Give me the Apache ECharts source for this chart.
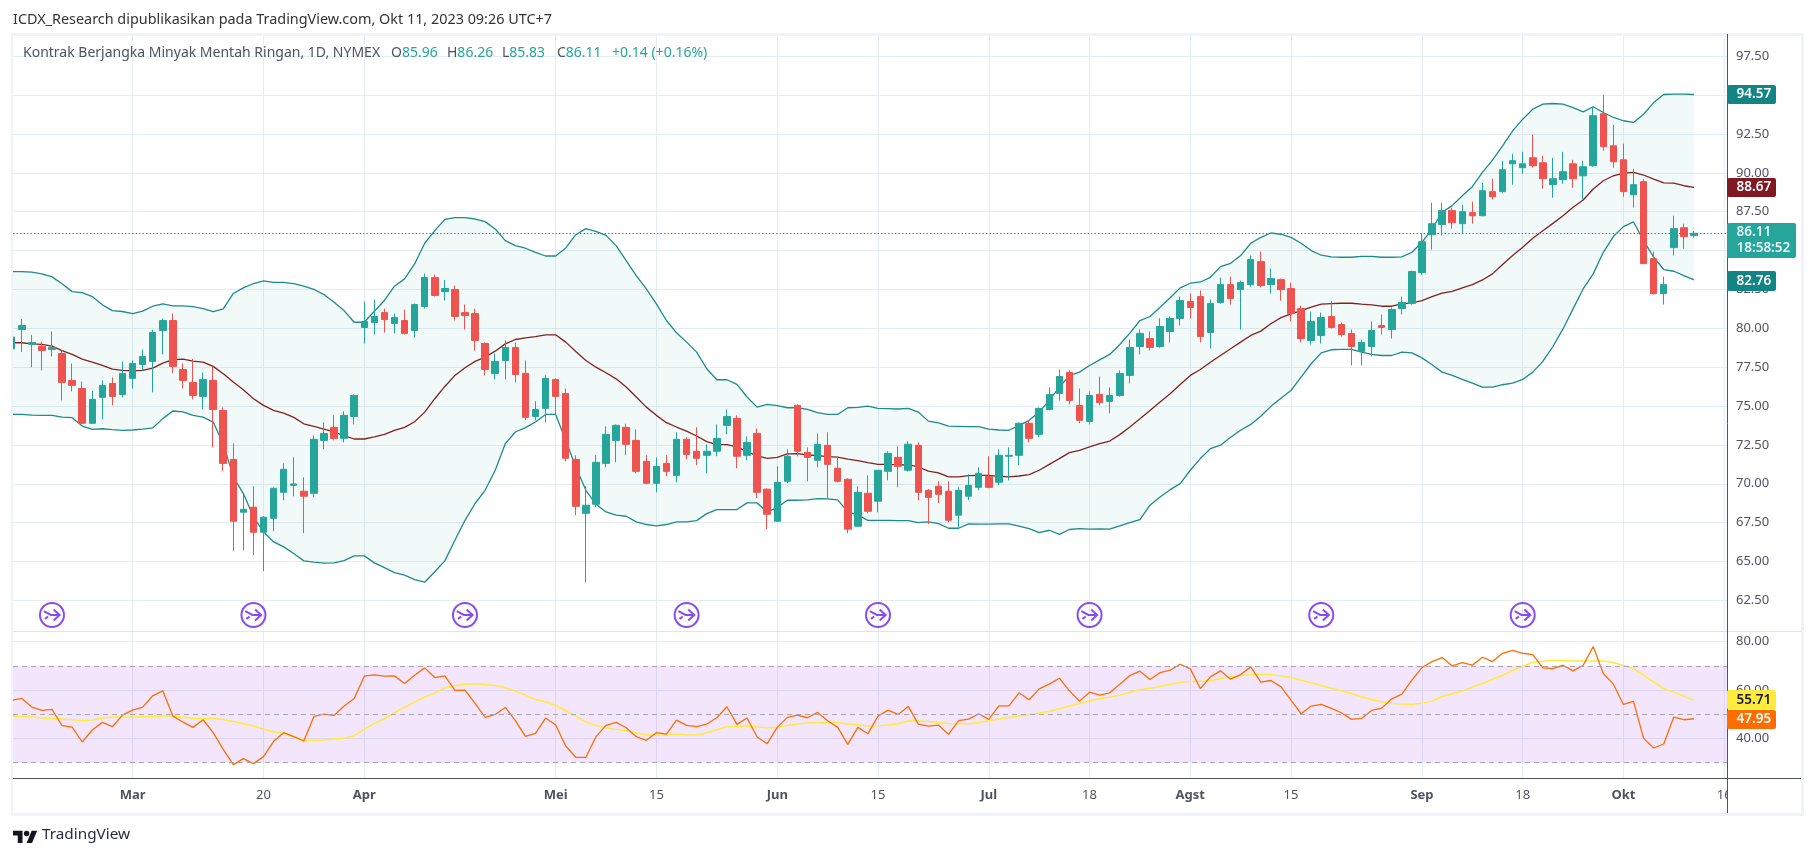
<!DOCTYPE html>
<html><head><meta charset="utf-8">
<style>html,body{margin:0;padding:0;background:#fff}#c{width:1815px;height:857px}</style>
<script src="https://cdn.jsdelivr.net/npm/echarts@6/dist/echarts.min.js"></script>
</head><body><div id="c"></div>
<script>
const opens=[78.68,79.92,78.98,78.85,78.64,78.38,76.65,76.13,73.89,75.56,76.45,75.75,76.78,77.67,77.87,79.86,80.50,77.35,76.52,75.62,76.65,74.72,71.57,68.17,68.49,66.88,67.78,69.45,69.90,69.52,69.39,72.79,73.63,72.92,74.33,80.05,80.37,81.01,80.31,80.50,79.86,81.40,83.26,82.36,82.49,81.01,80.95,79.02,77.10,77.93,78.77,77.10,74.33,74.85,76.71,75.81,71.57,68.10,68.68,71.31,72.79,73.63,72.79,71.44,70.03,71.31,70.54,72.86,72.09,71.83,72.09,73.76,74.21,71.83,73.24,69.65,67.59,70.16,75.04,72.02,71.51,72.47,71.00,70.29,67.27,69.39,68.88,70.80,71.70,70.87,72.47,69.58,69.84,69.52,67.98,69.20,69.77,70.48,70.10,71.77,71.83,73.89,73.18,74.78,75.81,77.16,75.04,74.01,75.75,75.30,75.68,76.97,78.83,79.34,78.83,79.79,80.63,81.72,82.04,79.73,81.66,82.81,82.49,82.81,84.29,82.81,83.13,82.56,81.27,79.22,79.54,80.76,80.24,79.67,78.51,78.83,80.18,79.92,81.27,81.59,83.58,86.02,86.67,87.57,86.73,87.44,87.24,88.79,88.79,90.58,90.33,90.97,90.65,89.24,89.56,90.58,89.81,90.46,93.80,91.74,90.84,88.59,89.43,84.48,82.23,85.19,86.47,85.96];
const highs=[79.75,80.61,79.58,79.15,79.79,78.57,77.74,76.58,75.98,76.65,76.84,77.85,77.93,78.64,79.90,80.63,80.95,77.74,78.04,77.16,77.52,74.91,72.60,69.37,69.84,67.91,69.77,71.31,71.70,70.42,73.11,73.95,74.40,74.66,75.75,81.72,81.85,81.27,80.95,81.21,81.59,83.52,83.46,83.11,82.75,81.53,81.27,79.09,78.38,79.22,79.09,77.93,75.30,76.97,76.78,76.13,71.83,69.84,71.83,73.69,73.82,73.86,73.50,71.83,71.70,71.83,73.31,72.99,73.63,72.54,73.82,74.78,74.40,73.05,73.56,69.71,71.12,72.22,75.11,72.34,73.24,73.31,71.70,70.35,69.84,70.54,70.87,72.09,72.41,72.73,72.66,69.65,70.16,70.16,69.77,70.61,71.06,71.77,72.22,72.34,73.95,74.08,74.91,76.20,77.35,77.29,76.13,75.94,76.90,76.20,77.29,79.28,79.92,79.79,80.63,80.76,82.04,82.24,82.43,81.85,83.26,83.33,83.07,84.68,84.93,83.84,83.20,82.94,81.46,81.08,81.01,81.78,80.37,79.92,79.28,80.44,80.89,81.33,82.04,83.71,86.09,88.08,88.08,87.76,87.95,88.14,89.36,89.62,90.78,91.23,91.35,92.45,91.10,90.97,91.35,90.84,90.78,94.25,95.02,93.09,91.87,90.26,89.62,84.93,83.33,87.24,86.73,86.26];
const lows=[77.61,78.47,77.50,77.29,78.19,75.36,75.94,73.86,73.87,74.14,75.04,75.56,76.13,77.29,75.88,78.32,77.10,76.13,75.43,74.78,72.34,70.80,65.66,65.73,65.41,64.38,66.95,68.94,69.20,66.82,69.13,72.22,72.79,72.66,73.82,79.02,79.60,79.73,79.67,79.60,79.41,81.27,82.05,81.79,80.50,79.92,78.57,76.97,76.71,76.71,76.52,74.08,74.08,73.95,74.40,71.44,67.98,63.67,68.49,71.06,71.38,71.83,70.67,69.97,69.45,70.48,70.09,71.57,71.19,70.67,71.77,73.18,71.00,71.51,69.07,67.08,67.53,70.03,71.77,70.16,71.06,69.07,70.09,66.82,67.21,68.10,68.17,70.22,69.77,70.80,68.94,67.40,68.75,67.53,67.08,68.94,69.58,69.71,69.90,70.22,71.19,72.66,72.99,74.72,75.36,75.11,73.89,73.82,75.04,74.53,75.60,76.45,78.32,78.57,78.75,79.09,80.18,80.63,79.09,78.70,81.59,81.53,79.92,82.68,82.62,82.23,81.78,80.44,79.09,78.96,79.02,79.99,79.47,77.61,77.61,78.19,79.60,79.34,80.89,81.53,83.45,85.06,85.96,86.41,86.09,86.73,87.20,88.27,88.72,89.24,89.94,90.33,88.98,88.40,89.30,89.04,88.27,90.39,91.42,90.33,88.46,87.76,84.16,82.17,81.53,84.68,85.12,85.83];
const closes=[79.43,80.18,79.09,78.57,78.77,76.52,76.33,73.89,75.43,76.33,75.62,77.10,77.74,78.19,79.73,80.50,77.55,76.65,75.68,76.71,74.78,71.31,67.59,68.36,66.88,67.85,69.71,70.93,69.99,69.20,72.86,73.24,72.92,74.40,75.68,80.44,80.76,80.56,80.69,79.67,81.53,83.26,82.11,82.56,80.76,80.82,79.22,77.35,77.87,78.77,77.03,74.27,74.78,76.78,75.62,71.64,68.55,68.62,71.38,73.18,73.76,72.54,70.80,70.03,71.12,70.80,72.86,71.89,71.64,72.09,72.92,74.33,71.77,72.66,69.45,68.04,70.09,71.77,72.09,71.70,72.54,71.25,70.16,67.08,69.45,68.23,70.87,71.96,71.12,72.54,69.45,69.13,69.32,67.65,69.58,69.90,70.67,69.77,71.83,71.83,73.89,72.92,74.85,75.75,76.90,75.36,74.08,75.68,75.23,75.68,77.10,78.77,79.67,78.77,80.12,80.63,81.79,81.34,79.47,81.59,82.81,81.91,82.94,84.42,82.75,83.20,82.49,80.95,79.34,80.44,80.69,80.05,79.60,78.83,79.09,79.86,80.05,81.21,81.66,83.65,85.57,86.73,87.57,86.79,87.50,87.24,88.85,88.46,90.20,90.78,90.58,90.46,89.62,89.62,90.07,89.62,90.39,93.67,91.68,90.71,88.79,89.24,84.16,82.23,82.81,86.41,85.90,86.11];
const bbUpper=[83.65,83.65,83.61,83.50,83.31,82.86,82.36,82.30,82.04,81.51,81.14,81.08,80.95,81.10,81.42,81.57,81.44,81.44,81.40,81.27,81.08,81.25,82.24,82.60,82.88,83.05,82.96,82.96,82.88,82.71,82.51,82.17,81.68,81.14,80.39,80.39,81.10,81.79,82.71,83.18,84.14,85.47,86.28,87.01,87.12,87.12,87.03,86.86,86.39,85.64,85.32,85.15,84.89,84.65,84.65,85.17,86.02,86.41,86.24,85.98,85.32,84.35,83.39,82.53,81.57,80.50,79.71,79.11,78.47,77.40,76.69,76.69,76.39,75.58,74.93,75.11,75.02,74.89,74.89,74.78,74.57,74.46,74.46,74.89,74.91,75.00,74.85,74.83,74.81,74.85,74.61,74.03,73.91,73.71,73.69,73.67,73.67,73.52,73.46,73.44,73.76,74.08,74.61,75.36,76.22,76.95,77.18,77.61,77.97,78.32,78.96,79.69,80.50,80.76,81.36,81.96,82.60,82.90,82.98,83.28,83.97,84.18,84.68,85.47,85.85,86.13,86.05,85.85,85.47,85.00,84.70,84.59,84.57,84.57,84.63,84.63,84.57,84.57,84.59,84.89,85.53,86.39,87.46,87.89,88.53,89.11,90.03,90.82,91.74,92.70,93.45,94.10,94.42,94.46,94.42,94.20,93.92,94.25,93.88,93.56,93.35,93.24,93.77,94.52,95.04,95.06,95.06,95.04];
const bbMiddle=[79.07,79.07,79.00,78.96,78.85,78.57,78.32,78.02,77.82,77.61,77.38,77.29,77.27,77.29,77.44,77.76,77.99,78.02,77.89,77.82,77.55,77.08,76.54,76.05,75.47,75.04,74.72,74.55,74.27,73.86,73.69,73.52,73.33,73.09,72.88,72.88,73.01,73.18,73.44,73.63,73.99,74.61,75.47,76.26,76.97,77.46,77.87,78.15,78.53,79.00,79.28,79.39,79.47,79.58,79.58,79.11,78.51,77.93,77.50,77.14,76.75,76.22,75.58,74.93,74.40,73.93,73.65,73.39,73.07,72.71,72.52,72.52,72.37,72.07,71.79,71.64,71.70,71.92,71.94,71.85,71.81,71.74,71.72,71.59,71.49,71.36,71.25,71.25,71.21,71.23,71.08,70.82,70.70,70.44,70.44,70.52,70.54,70.54,70.48,70.44,70.50,70.59,70.87,71.25,71.62,72.00,72.15,72.37,72.58,72.75,73.16,73.65,74.18,74.72,75.26,75.79,76.39,76.97,77.35,77.82,78.25,78.68,79.11,79.54,79.82,80.29,80.69,80.93,81.14,81.36,81.55,81.59,81.61,81.61,81.55,81.51,81.42,81.42,81.57,81.63,81.78,82.04,82.26,82.38,82.60,82.81,83.11,83.50,84.10,84.68,85.21,85.79,86.28,86.75,87.24,87.78,88.25,88.96,89.49,89.81,89.98,90.03,89.86,89.60,89.36,89.34,89.17,89.06];
const bbLower=[74.46,74.46,74.42,74.40,74.40,74.29,74.25,73.71,73.50,73.54,73.48,73.44,73.46,73.52,73.59,74.19,74.68,74.63,74.40,74.29,73.97,72.58,70.44,69.37,67.87,66.91,66.26,65.94,65.51,65.04,64.96,64.89,64.91,65.06,65.36,65.36,64.91,64.61,64.29,64.12,63.84,63.67,64.34,65.04,66.37,67.65,68.73,69.58,70.87,72.58,73.33,73.61,73.97,74.46,74.46,72.79,71.08,69.58,68.68,68.19,67.98,67.91,67.55,67.38,67.29,67.38,67.55,67.55,67.63,68.08,68.34,68.34,68.34,68.77,68.77,68.19,68.47,68.94,68.94,68.96,69.05,69.03,68.96,68.19,67.98,67.65,67.65,67.65,67.63,67.63,67.50,67.55,67.44,67.14,67.14,67.42,67.40,67.40,67.42,67.42,67.27,67.12,66.86,67.01,66.75,67.06,67.12,67.08,67.10,67.08,67.29,67.50,67.70,68.62,69.15,69.62,70.01,70.87,71.62,72.26,72.48,72.99,73.44,73.82,74.34,74.98,75.50,76.00,76.86,77.72,78.42,78.62,78.64,78.64,78.47,78.32,78.25,78.25,78.47,78.42,78.10,77.65,77.18,76.97,76.71,76.48,76.22,76.22,76.37,76.48,76.71,77.18,77.87,78.83,79.96,81.25,82.53,83.50,84.89,85.90,86.54,86.84,85.64,84.57,83.78,83.67,83.39,83.11];
const rsiValues=[55.67,56.50,52.92,51.55,51.96,45.22,44.68,38.49,43.44,46.60,44.81,49.62,51.69,52.92,57.60,59.66,49.21,46.74,44.54,47.70,42.34,35.47,29.14,31.62,29.55,32.44,38.76,42.34,40.69,38.90,49.07,50.04,49.49,53.34,56.50,65.71,66.26,65.71,65.84,62.68,66.12,69.14,65.16,65.84,59.80,59.93,54.44,48.66,49.90,52.79,47.29,40.83,42.06,48.39,45.50,36.84,32.17,32.17,40.69,45.36,46.60,44.40,40.69,39.18,42.34,41.79,47.56,45.36,44.81,45.91,48.52,53.06,45.77,48.39,40.55,37.80,44.54,48.66,49.62,48.52,50.72,47.29,44.54,37.53,44.54,41.93,49.21,51.69,49.90,53.20,45.91,45.09,45.50,41.65,47.29,47.97,50.17,47.84,53.47,53.47,58.83,55.95,60.48,62.41,64.88,59.66,55.40,59.11,57.87,58.83,62.41,65.98,67.77,64.33,67.22,68.18,70.66,68.73,60.62,65.43,67.91,64.47,66.39,69.56,63.23,63.92,61.31,55.81,50.17,53.34,54.02,52.37,50.59,47.84,48.25,51.55,52.51,56.36,58.28,64.06,69.28,71.75,73.40,69.97,71.34,70.24,73.54,71.75,75.19,76.43,75.19,74.64,69.14,68.87,70.24,67.91,70.24,77.94,66.81,62.41,54.02,55.26,40.00,36.01,37.66,48.80,47.70,48.11];
const rsiMA=[49.07,49.07,48.80,48.39,48.25,47.97,47.70,47.42,47.56,48.39,48.80,48.80,48.80,48.94,49.07,49.21,49.21,48.80,48.25,48.25,48.25,47.84,47.01,46.05,45.09,43.85,42.75,41.93,40.69,39.31,39.18,39.31,39.73,40.00,41.10,43.71,46.19,48.11,50.59,52.79,54.98,57.05,58.70,60.90,61.72,62.41,62.54,62.27,61.86,60.90,59.52,57.87,56.08,55.12,53.61,51.41,49.21,46.74,45.36,44.40,43.71,43.16,42.34,41.51,41.38,41.38,41.65,41.51,41.38,42.34,43.58,44.81,44.95,45.09,44.67,44.40,44.54,45.36,45.91,46.32,46.46,46.60,46.60,45.91,45.64,45.09,45.22,45.50,46.05,47.29,47.15,47.01,46.60,46.19,46.05,46.05,46.60,47.29,47.97,48.66,49.21,49.76,50.45,51.14,52.24,53.34,54.44,55.53,56.36,57.05,57.87,58.97,60.07,60.76,61.45,62.41,63.23,63.51,63.64,63.78,64.74,65.43,65.98,66.39,66.39,66.39,65.84,65.16,64.06,62.96,61.86,60.76,59.66,58.56,57.18,55.95,55.12,54.44,54.16,54.02,54.57,55.40,57.32,58.42,59.52,61.17,62.68,64.33,66.12,68.04,69.83,71.48,71.89,72.17,72.17,72.03,72.03,72.03,72.03,71.34,70.11,68.87,66.12,63.23,60.62,59.11,57.46,55.81];
const firstBar=-1;
const timeTicks=[11,24,34,53,63,75,85,96,106,116,126,139,149,159,169];
const timeLabels=['Mar','20','Apr','Mei','15','Jun','15','Jul','18','Agst','15','Sep','18','Okt','16'];
const eventBars=[3,23,44,66,85,106,129,149];
const eventLevel=61.56;
const priceTicks=[62.5,65,67.5,70,72.5,75,77.5,80,82.5,85,87.5,90,92.5,95,97.5];
const rsiTicks=[40,60,80];
const rsiBands=[70,50,30];
const lastClose=86.11;
const xRange=[-0.87,169.28], priceRange=[60.53,98.93], rsiRange=[23.6,84.4];

const TEAL='#26a69a',RED='#ef5350',BAND='#1f8a8a',MID='#862020',GRID='#e5ecf2',TXT='#50535e',FRAME='#f0f3fa';
const FONT='"Noto Sans",sans-serif';
const idx=i=>i+firstBar;
const pairs=a=>a.map((v,i)=>[idx(i),v]);
const chart=echarts.init(document.getElementById('c'),null,{renderer:'canvas'});
const L=13,R=1727,T=34,M=631,B=778;

function tag(x,y,w,h,fill,txt,color,extra){
  return [{type:'rect',z:200,shape:{x,y,width:w,height:h,r:2},style:{fill}},
          {type:'text',z:201,x:1736.5,y:y+h/2,style:Object.assign({text:txt,fill:color,font:'600 13.5px '+FONT,verticalAlign:'middle'},extra||{})}];
}
const ohlcText=(x,text)=>({type:'text',z:70,x,y:53,style:{font:'14px '+FONT,verticalAlign:'middle',fill:TXT,
   rich:{v:{fill:TEAL,font:'14px '+FONT},n:{fill:TXT,font:'14px '+FONT}},text}});
const tvLogo=[
 {type:'polygon',z:200,x:13,y:828,scaleX:.68,scaleY:.68,shape:{points:[[0,4],[14,4],[14,22],[7,22],[7,11],[0,11]]},style:{fill:'#131722'}},
 {type:'polygon',z:200,x:13,y:828,scaleX:.68,scaleY:.68,shape:{points:[[20,22],[28,22],[35.5,4],[27.5,4]]},style:{fill:'#131722'}},
 {type:'circle',z:200,shape:{cx:13+20*.68,cy:828+8*.68,r:4*.68},style:{fill:'#131722'}},
 {type:'text',z:200,x:42,y:835,style:{text:'TradingView',font:'15.3px '+FONT,fill:'#2a2e39',verticalAlign:'middle'}}
];
const frame=[
 {type:'rect',z:60,shape:{x:0,y:34,width:11,height:780},style:{fill:'#fff'}},
 {type:'rect',z:60,shape:{x:R+1,y:B+1,width:74,height:33},style:{fill:'#fff'}},
 {type:'rect',z:61,shape:{x:11,y:33,width:2,height:782},style:{fill:FRAME}},
 {type:'rect',z:61,shape:{x:11,y:33,width:1792,height:3},style:{fill:FRAME}},
 {type:'rect',z:61,shape:{x:1801,y:33,width:3,height:782},style:{fill:FRAME}},
 {type:'rect',z:61,shape:{x:11,y:813,width:1793,height:3},style:{fill:FRAME}},
 {type:'line',z:62,shape:{x1:13,y1:631.5,x2:1801,y2:631.5},style:{stroke:'#e0e3eb',lineWidth:1}},
 {type:'line',z:63,shape:{x1:13,y1:778.5,x2:1801,y2:778.5},style:{stroke:TXT,lineWidth:1}},
 {type:'line',z:63,shape:{x1:R+.5,y1:34,x2:R+.5,y2:813},style:{stroke:TXT,lineWidth:1}}
];
chart.setOption({
 animation:false,backgroundColor:'#fff',
 graphic:[].concat(frame,tvLogo,
  tag(R,85,49,19,'#138484','94.57','#fff'),
  tag(R,178,49,19,'#801922','88.67','#fff'),
  tag(R,271,49,20,'#138484','82.76','#fff'),
  tag(R,223,69,35,TEAL,'86.11\n18:58:52','#e8f7f5',{lineHeight:16}),
  tag(R,690,49,19.5,'#ffeb3b','55.71','#131722'),
  tag(R,710,49,19,'#ff6d00','47.95','#fff'),
  [{type:'text',z:70,x:13,y:20,style:{text:'ICDX_Research dipublikasikan pada TradingView.com, Okt 11, 2023 09:26 UTC+7',font:'14.4px '+FONT,fill:'#333',verticalAlign:'middle'}},
   {type:'text',z:70,x:23,y:53,style:{font:'14px '+FONT,verticalAlign:'middle',fill:TXT,
     text:'Kontrak Berjangka Minyak Mentah Ringan, 1D, NYMEX',}},
   ohlcText(391,'{n|O}{v|85.96}'),ohlcText(447,'{n|H}{v|86.26}'),ohlcText(502,'{n|L}{v|85.83}'),ohlcText(557,'{n|C}{v|86.11}'),ohlcText(612,'{v|+0.14 (+0.16%)}')
  ]),
 grid:[{left:L,width:R-L,top:T,height:M-T,show:false},{left:L,width:R-L,top:M,height:B-M,show:false}],
 xAxis:[0,1].map(i=>({type:'value',gridIndex:i,min:xRange[0],max:xRange[1],
   axisLine:{show:false},axisTick:{show:false,customValues:timeTicks},
   splitLine:{show:true,lineStyle:{color:GRID,width:1}},
   axisLabel:i===0?{show:false,customValues:timeTicks}:{show:true,customValues:timeTicks,margin:11,color:TXT,fontSize:13,fontFamily:FONT,
     formatter:v=>{const s=timeLabels[timeTicks.indexOf(v)];return /^\d/.test(s)?s:'{b|'+s+'}';},
     rich:{b:{fontWeight:'bold',color:TXT,fontSize:13,fontFamily:FONT}}}})),
 yAxis:[
  {type:'value',gridIndex:0,position:'right',min:priceRange[0],max:priceRange[1],
   axisLine:{show:false},axisTick:{show:false,customValues:priceTicks},
   splitLine:{show:true,lineStyle:{color:GRID,width:1}},
   axisLabel:{customValues:priceTicks,margin:9,color:TXT,fontSize:13,fontFamily:FONT,formatter:v=>v.toFixed(2)}},
  {type:'value',gridIndex:1,position:'right',min:rsiRange[0],max:rsiRange[1],
   axisLine:{show:false},axisTick:{show:false,customValues:rsiTicks},
   splitLine:{show:true,lineStyle:{color:GRID,width:1}},
   axisLabel:{customValues:rsiTicks,margin:9,color:TXT,fontSize:13,fontFamily:FONT,formatter:v=>v.toFixed(2)}}
 ],
 series:[
  {type:'custom',xAxisIndex:0,yAxisIndex:0,silent:true,clip:true,z:1,data:[[idx(0),bbLower[0]]],encode:{x:0,y:1},
   renderItem:(p,api)=>({type:'polygon',
     shape:{points:bbUpper.map((v,i)=>api.coord([idx(i),v])).concat(bbLower.map((v,i)=>api.coord([idx(i),v])).reverse())},
     style:{fill:'rgba(38,166,154,0.06)'}})},
  {type:'line',name:'BB upper',xAxisIndex:0,yAxisIndex:0,data:pairs(bbUpper),symbol:'none',lineStyle:{color:BAND,width:1.3},z:2},
  {type:'line',name:'BB lower',xAxisIndex:0,yAxisIndex:0,data:pairs(bbLower),symbol:'none',lineStyle:{color:BAND,width:1.3},z:2},
  {type:'line',name:'BB mid',xAxisIndex:0,yAxisIndex:0,data:pairs(bbMiddle),symbol:'none',lineStyle:{color:MID,width:1.3},z:2},
  {type:'candlestick',xAxisIndex:0,yAxisIndex:0,barWidth:7,z:3,
   data:opens.map((o,i)=>[idx(i),o,closes[i],lows[i],highs[i]]),
   encode:{x:0,y:[1,2,3,4]},
   itemStyle:{color:TEAL,color0:RED,borderColor:TEAL,borderColor0:RED,borderWidth:1},
   markLine:{silent:true,symbol:'none',label:{show:false},lineStyle:{color:'#12a594',type:[1.5,2],width:1},data:[{yAxis:lastClose}]}},
  {type:'scatter',xAxisIndex:0,yAxisIndex:0,z:4,silent:true,
   data:eventBars.map(b=>[b,eventLevel]),symbolSize:[24,24],
   symbol:'path://M12 1a11 11 0 1 0 .01 0zM4.5 8.5L11 12L18.5 12M13.5 7L19 12L13.5 17M5.5 15.5L8.5 13.5',
   itemStyle:{color:'rgba(0,0,0,0)',borderColor:'#6a1ff2',borderWidth:2}},
  {type:'line',name:'RSI',xAxisIndex:1,yAxisIndex:1,data:pairs(rsiValues),symbol:'none',lineStyle:{color:'#ff6d00',width:1.3},z:3,
   markArea:{silent:true,itemStyle:{color:'rgba(155,39,230,0.12)'},data:[[{yAxis:rsiBands[2]},{yAxis:rsiBands[0]}]]},
   markLine:{silent:true,symbol:'none',label:{show:false},lineStyle:{color:'#a5a5ad',type:[5,4],width:1},data:rsiBands.map(v=>({yAxis:v}))}},
  {type:'line',name:'RSI MA',xAxisIndex:1,yAxisIndex:1,data:pairs(rsiMA),symbol:'none',lineStyle:{color:'#ffeb3b',width:1.5},z:2}
 ]
});
</script></body></html>
